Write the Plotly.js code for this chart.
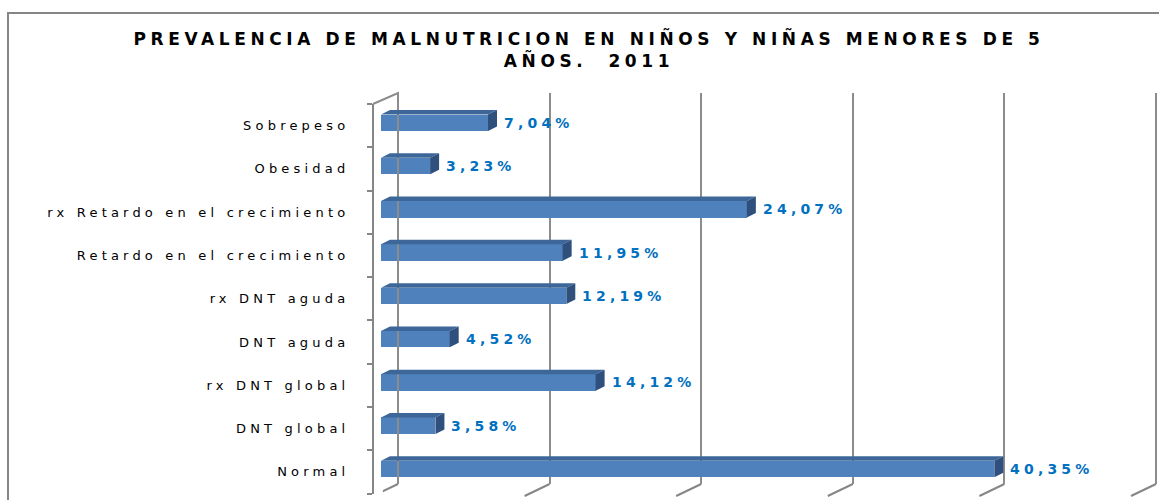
<!DOCTYPE html>
<html>
<head>
<meta charset="utf-8">
<script src="https://cdn.plot.ly/plotly-3.0.1.min.js"></script>
<style>
  html, body { margin: 0; padding: 0; background: #fff; }
  .gtitle { letter-spacing: 4.6px; }
  .y2tick text { letter-spacing: 4.2px; }
  .annotation-text { letter-spacing: 4.2px; }
</style>
</head>
<body>
<div id="chart" style="width:1159px;height:500px;"></div>
<script>
// ---- data (top to bottom as in the chart) ----
const categories = [
  'Sobrepeso',
  'Obesidad',
  'rx Retardo en el crecimiento',
  'Retardo en el crecimiento',
  'rx DNT aguda',
  'DNT aguda',
  'rx DNT global',
  'DNT global',
  'Normal'
];
const values = [7.04, 3.23, 24.07, 11.95, 12.19, 4.52, 14.12, 3.58, 40.35];
const valueLabels = ['7,04%', '3,23%', '24,07%', '11,95%', '12,19%', '4,52%', '14,12%', '3,58%', '40,35%'];
const gridTicks = [0, 10, 20, 30, 40, 50];
const titleText = 'PREVALENCIA DE MALNUTRICION EN NIÑOS Y NIÑAS MENORES DE 5<br>AÑOS.  2011';

// ---- geometry / style ----
const W = 1159, H = 500;
const N = categories.length;
const idx = categories.map((_, i) => i);

const backX0 = 398, backX50 = 1156, backTop = 93, backBottom = 484;
const barX0 = 381, barX50 = 1141;
const frontAxisX = 373, frontTop = 104, frontBottom = 493.5;
const wallDX = 25, wallDY = 12;

const barWidth = 0.38;
const pxPerY = (frontBottom - frontTop) / N;
const pxPerX = (barX50 - barX0) / 50;
const barOffset = -barWidth / 2 - 2.9 / pxPerY;
const depthX = 9 / pxPerX;       // bar depth, data units
const depthY = 4.5 / pxPerY;

const backScale = (backX50 - backX0) / 50;
const backPadLo = 1.0, backPadHi = 0.15;

const colFront = '#4f81bd', colTop = '#3d6798', colSide = '#2f507c';
const gray = '#868686';
const gridGray = '#8c8c8c';
const labelBlue = '#0070c0';

// back-left edge of the wall (value 0 of the back plane)
const wallEdge = {
  type: 'scatter', mode: 'lines',
  x: [gridTicks[0], gridTicks[0]], y: [0, 1],
  xaxis: 'x', yaxis: 'y',
  line: { color: gridGray, width: 2 },
  hoverinfo: 'skip', showlegend: false, cliponaxis: false
};

const bars = {
  type: 'bar',
  orientation: 'h',
  x: values,
  y: idx,
  xaxis: 'x2',
  yaxis: 'y2',
  width: barWidth,
  offset: barOffset,
  marker: { color: colFront, line: { width: 0 } },
  hoverinfo: 'skip',
  showlegend: false
};

const yFrontTop = 1 - frontTop / H, yBackTop = 1 - backTop / H, yBackBottom = 1 - backBottom / H;
const shapes = [];
// left wall outline: front-top -> back-top -> back-bottom
shapes.push({
  type: 'path', xref: 'paper', yref: 'paper',
  path: `M ${frontAxisX / W},${yFrontTop} L ${backX0 / W},${yBackTop} L ${backX0 / W},${yBackBottom}`,
  fillcolor: 'rgba(0,0,0,0)',
  line: { color: gridGray, width: 2 }, layer: 'above'
});
values.forEach((v, i) => {
  const yt = i + barOffset, yb = yt + barWidth;
  shapes.push({
    type: 'path', xref: 'x2', yref: 'y2', layer: 'above',
    path: `M 0,${yt} L ${v},${yt} L ${v + depthX},${yt - depthY} L ${depthX},${yt - depthY} Z`,
    fillcolor: colTop, line: { width: 0 }
  });
  shapes.push({
    type: 'path', xref: 'x2', yref: 'y2', layer: 'above',
    path: `M ${v},${yt} L ${v + depthX},${yt - depthY} L ${v + depthX},${yb - depthY} L ${v},${yb} Z`,
    fillcolor: colSide, line: { width: 0 }
  });
});
// floor edges under each back grid line
gridTicks.forEach(t => {
  shapes.push({
    type: 'line', xref: 'x', yref: 'paper', xsizemode: 'pixel', xanchor: t,
    x0: 0, x1: -wallDX, y0: yBackBottom, y1: 1 - (backBottom + wallDY) / H,
    line: { color: gray, width: 2 }, layer: 'below'
  });
});
// outer chart frame
shapes.push({
  type: 'rect', xref: 'paper', yref: 'paper',
  x0: 8 / W, x1: 1.02, y0: -0.05, y1: 1 - 13 / H,
  line: { color: gray, width: 2 }, fillcolor: 'rgba(0,0,0,0)', layer: 'below'
});

const annotations = values.map((v, i) => ({
  xref: 'x2', yref: 'y2',
  x: v, y: i + barOffset + barWidth / 2,
  text: valueLabels[i],
  showarrow: false,
  xanchor: 'left', yanchor: 'middle',
  xshift: 14,
  font: { family: 'DejaVu Sans', size: 14, weight: 'bold', color: labelBlue }
}));

const layout = {
  width: W, height: H,
  margin: { l: 0, r: 0, t: 0, b: 0 },
  paper_bgcolor: '#ffffff',
  plot_bgcolor: 'rgba(0,0,0,0)',
  showlegend: false,
  title: {
    text: titleText,
    font: { family: 'DejaVu Sans', size: 17, weight: 'bold', color: '#000000' },
    xref: 'container', yref: 'container',
    x: 589 / W, xanchor: 'center',
    y: 1 - 45 / H, yanchor: 'top'
  },
  // back wall (grid lines)
  xaxis: {
    domain: [(backX0 - backPadLo * backScale) / W, (backX50 + backPadHi * backScale) / W],
    range: [-backPadLo, 50 + backPadHi],
    anchor: 'y',
    tickmode: 'array', tickvals: gridTicks,
    showgrid: true, gridcolor: gridGray, gridwidth: 2,
    zeroline: false,
    showline: false,
    showticklabels: false, ticks: '',
    fixedrange: true
  },
  yaxis: {
    domain: [yBackBottom, yBackTop],
    range: [0, 1],
    anchor: 'x',
    visible: false,
    fixedrange: true
  },
  // front plane (bars + category axis)
  xaxis2: {
    domain: [barX0 / W, barX50 / W],
    range: [0, 50],
    anchor: 'y2',
    visible: false,
    fixedrange: true
  },
  yaxis2: {
    domain: [1 - frontBottom / H, 1 - frontTop / H],
    range: [N - 0.5, -0.5],
    anchor: 'free',
    position: frontAxisX / W,
    tickmode: 'array',
    tickvals: idx,
    ticktext: categories,
    ticks: '',
    ticklabelstandoff: 20,
    minor: {
      tickmode: 'array',
      tickvals: [-0.5].concat(idx.map(i => i + 0.5)),
      ticks: 'outside', ticklen: 5, tickwidth: 2, tickcolor: gray, showgrid: false
    },
    showline: true, linecolor: gray, linewidth: 2,
    showgrid: false, zeroline: false,
    tickfont: { family: 'DejaVu Sans', size: 13, color: '#000000' },
    fixedrange: true
  },
  shapes: shapes,
  annotations: annotations,
  bargap: 0
};

Plotly.newPlot('chart', [wallEdge, bars], layout, { displayModeBar: false, staticPlot: true });
</script>
</body>
</html>
